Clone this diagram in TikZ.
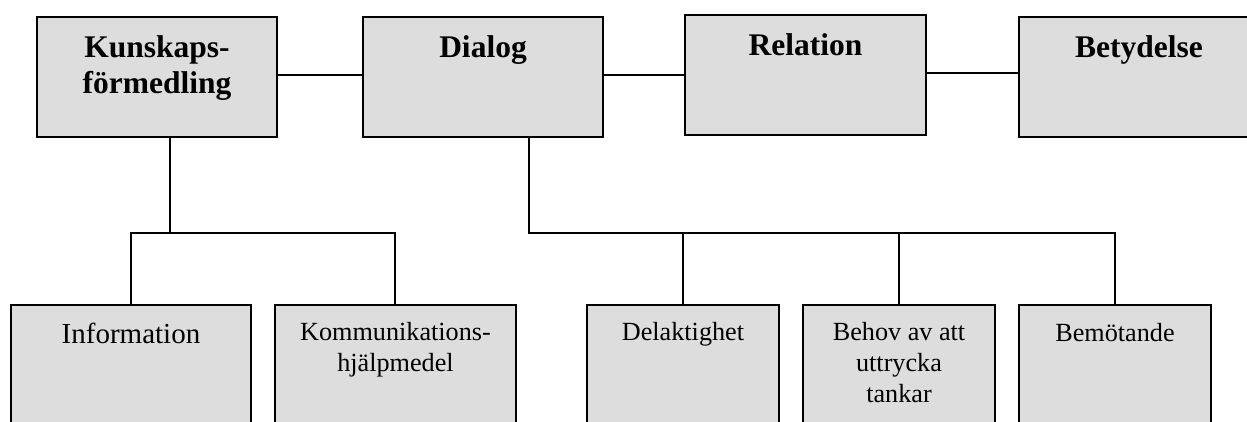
\documentclass[tikz,border=0pt]{standalone}
\usepackage{fontspec}
\setmainfont{Liberation Serif}
\definecolor{boxfill}{HTML}{DDDDDD}
\tikzset{
  topbox/.style={draw=black, fill=boxfill, line width=1.8pt, rectangle, inner sep=0pt,
                 minimum width=240pt, minimum height=120pt},
  botbox/.style={draw=black, fill=boxfill, line width=1.8pt, rectangle, inner sep=0pt,
                 minimum width=240pt, minimum height=155pt},
  boldlab/.style={font=\bfseries\fontsize{31.5}{35.7}\selectfont, align=center, anchor=base, inner sep=0pt},
  lab/.style={font=\fontsize{26.2}{31.4}\selectfont, align=center, anchor=base, inner sep=0pt},
  biglab/.style={font=\fontsize{29}{34}\selectfont, align=center, anchor=base, inner sep=0pt},
  conn/.style={line width=1.7pt}
}
\begin{document}
\begin{tikzpicture}[x=1pt,y=-1pt]
\useasboundingbox (0,0) rectangle (1247,421);
\clip (0,0) rectangle (1247,421);
% top boxes
\node[topbox] (K) at (157,77) {};
\node[topbox] (D) at (483,77) {};
\node[topbox, minimum width=241pt] (R) at (805.5,75) {};
\node[topbox] (B) at (1139,77) {};
% bottom boxes
\node[botbox] (I) at (131,382.5) {};
\node[botbox, minimum width=241pt] (M) at (395.5,382.5) {};
\node[botbox, minimum width=192pt] (Dl) at (683,382.5) {};
\node[botbox, minimum width=192pt] (Bh) at (899,382.5) {};
\node[botbox, minimum width=192pt] (Bm) at (1115,382.5) {};
% labels (base anchor = baseline of last line)
\node[boldlab] (Kt) at (157,93) {Kunskaps-\\förmedling};
\node[boldlab] (Dt) at (483,57.8) {Dialog};
\node[boldlab] (Rt) at (805.5,55.5) {Relation};
\node[boldlab] (Bt) at (1139,57.3) {Betydelse};
\node[biglab] (It) at (131,343.3) {Information};
\node[lab] (Mt) at (395.5,371.5) {Kommunikations-\\hjälpmedel};
\node[lab] (Dlt) at (683,340.7) {Delaktighet};
\node[lab] (Bht) at (899,402.8) {Behov av att\\uttrycka\\tankar};
\node[lab] (Bmt) at (1115,341) {Bemötande};
% connectors
\draw[conn] ([yshift=2pt]K.east) -- ([yshift=2pt]D.west);
\draw[conn] ([yshift=2pt]D.east) -- (R.west);
\draw[conn] ([yshift=2pt]R.east) -- ([yshift=4pt]B.west);
\coordinate (kj) at (170,233);
\draw[conn] ([xshift=13pt]K.south) -- (kj);
\draw[conn] (I.north) |- (kj) -| ([xshift=-0.5pt]M.north);
\coordinate (dj) at (529,233);
\draw[conn] ([xshift=46pt]D.south) -- (dj) -| (Bm.north);
\draw[conn] (Dl.north) -- (Dl.north |- dj);
\draw[conn] (Bh.north) -- (Bh.north |- dj);
\end{tikzpicture}
\end{document}
